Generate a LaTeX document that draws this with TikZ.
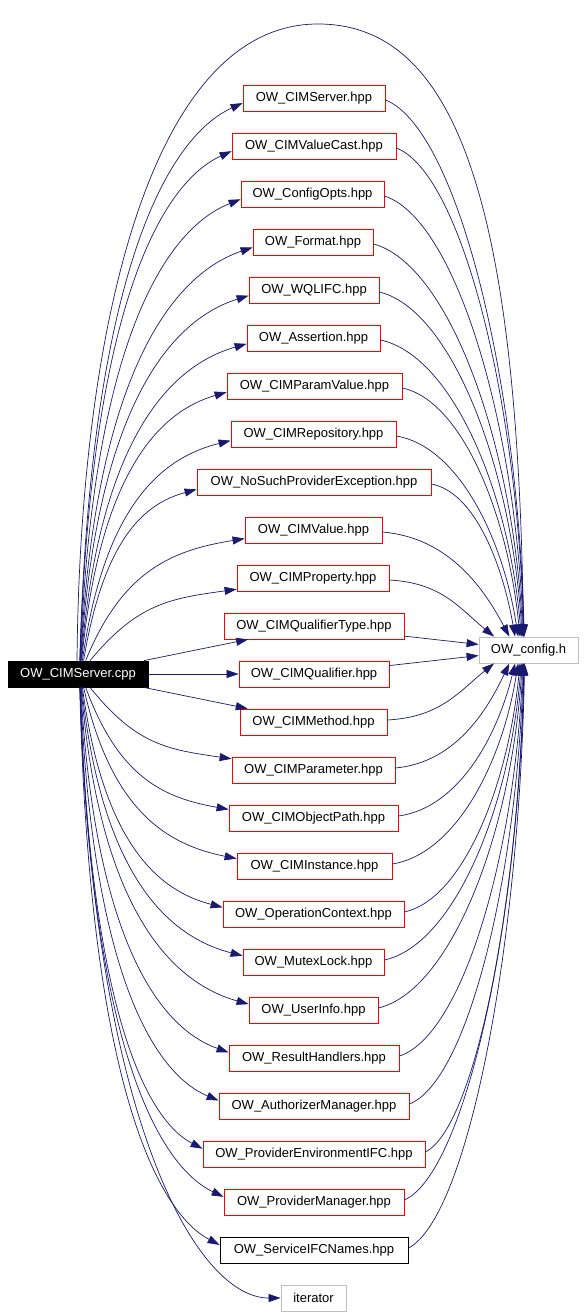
\documentclass[tikz,border=0pt]{standalone}
\usepackage{fontspec}
\setmainfont{Liberation Sans}
\usetikzlibrary{arrows.meta}
\definecolor{edgeblue}{HTML}{191970}
\definecolor{boxred}{HTML}{FF0000}
\definecolor{boxgray}{HTML}{BFBFBF}
\begin{document}
\begin{tikzpicture}[x=1pt,y=-1pt,
  box/.style={draw, rectangle, inner sep=0pt, minimum height=26pt,
    font=\fontsize{13}{15}\selectfont, line width=0.8pt},
  dep/.style={draw=edgeblue, line width=0.7pt, -{Triangle[length=12pt,width=8pt]}}]
\useasboundingbox (0,0) rectangle (584,1316);
\fill[white] (0,0) rectangle (584,1316);

\node[box, fill=black, text=white, draw=black, minimum width=140pt] (main) at (78,674) {OW\_CIMServer.cpp};
\node[box, draw=boxgray, minimum width=99pt] (cfg) at (528.5,650) {OW\_config.h};

% big arc main -> config
\draw[dep] ([xshift=-1pt]main.north) .. controls (80,330) and (150,24) .. (318,24)
  .. controls (455,24) and (518,200) .. ([xshift=-5pt]cfg.north);

% upper rows
\foreach \n/\t/\y/\l/\r in {
  srvh/OW\_CIMServer.hpp/98/243/385,
  vc/OW\_CIMValueCast.hpp/146/232/396,
  co/OW\_ConfigOpts.hpp/194/241/384,
  fmt/OW\_Format.hpp/242/253/373,
  wql/OW\_WQLIFC.hpp/290/249/379,
  as/OW\_Assertion.hpp/338/247/380,
  pv/OW\_CIMParamValue.hpp/386/227/402,
  rep/OW\_CIMRepository.hpp/434/231/396,
  nsp/OW\_NoSuchProviderException.hpp/482/197/431,
  val/OW\_CIMValue.hpp/530/245/382,
  prop/OW\_CIMProperty.hpp/578/237/389}{
  \pgfmathsetmacro\w{\r-\l}
  \pgfmathsetmacro\cx{(\l+\r)/2}
  \node[box, draw=boxred, minimum width=\w pt] (\n) at (\cx,\y) {\t};
  \pgfmathsetmacro\dy{661-\y}
  \pgfmathsetmacro\sxo{1000/\dy}
  \pgfmathsetmacro\sx{78+\sxo}
  \pgfmathsetmacro\k{40/(\dy+40)}
  \pgfmathsetmacro\ax{\sx+(\l-\sx)*\k}
  \pgfmathsetmacro\ay{661-0.7*\dy}
  \pgfmathsetmacro\eyo{4+600/\dy}
  \pgfmathsetmacro\bx{\l-0.45*(\l-\sx)}
  \pgfmathsetmacro\by{\y+\eyo+0.05*\dy+5}
  \draw[dep] ([xshift=\sxo pt]main.north) .. controls (\ax,\ay) and (\bx,\by) .. ([yshift=-\eyo pt]\n.west);
  \pgfmathsetmacro\dz{637-\y}
  \pgfmathsetmacro\ex{528-2000/\dz}
  \pgfmathsetmacro\exo{\ex-528.5}
  \pgfmathsetmacro\px{\r+0.5*(\ex-\r)}
  \pgfmathsetmacro\py{\y+2+0.05*\dz}
  \pgfmathsetmacro\kk{30/(\dz+30)}
  \pgfmathsetmacro\qx{\ex-(\ex-\r)*\kk}
  \pgfmathsetmacro\qy{637-0.5*\dz}
  \draw[dep] ([yshift=-2pt]\n.east) .. controls (\px,\py) and (\qx,\qy) .. ([xshift=\exo pt]cfg.north);
}

% middle rows
\node[box, draw=boxred, minimum width=180pt] (qt) at (314,626) {OW\_CIMQualifierType.hpp};
\node[box, draw=boxred, minimum width=150pt] (q) at (314,674) {OW\_CIMQualifier.hpp};
\node[box, draw=boxred, minimum width=147pt] (meth) at (313.5,722) {OW\_CIMMethod.hpp};
\draw[dep] (main) -- (qt);
\draw[dep] (main) -- (q);
\draw[dep] (main) -- (meth);
\draw[dep] (qt) -- (cfg);
\draw[dep] (q) -- (cfg);
\draw[dep] ([yshift=2pt]meth.east) .. controls (440.5,717) and (458,692.5) .. ([xshift=-34.5pt]cfg.south);

% lower rows
\foreach \n/\t/\y/\l/\r/\c in {
  par/OW\_CIMParameter.hpp/770/232/395/boxred,
  op/OW\_CIMObjectPath.hpp/818/229/398/boxred,
  inst/OW\_CIMInstance.hpp/866/237/392/boxred,
  oc/OW\_OperationContext.hpp/914/223/404/boxred,
  mx/OW\_MutexLock.hpp/962/243/384/boxred,
  ui/OW\_UserInfo.hpp/1010/249/378/boxred,
  rh/OW\_ResultHandlers.hpp/1058/229/399/boxred,
  am/OW\_AuthorizerManager.hpp/1106/219/409/boxred,
  pe/OW\_ProviderEnvironmentIFC.hpp/1154/203/425/boxred,
  pm/OW\_ProviderManager.hpp/1202/224/404/boxred,
  sn/OW\_ServiceIFCNames.hpp/1250/220/408/black}{
  \pgfmathsetmacro\w{\r-\l}
  \pgfmathsetmacro\cx{(\l+\r)/2}
  \node[box, draw=\c, minimum width=\w pt] (\n) at (\cx,\y) {\t};
  \pgfmathsetmacro\dy{\y-687}
  \pgfmathsetmacro\sxo{1000/\dy}
  \pgfmathsetmacro\sx{78+\sxo}
  \pgfmathsetmacro\k{40/(\dy+40)}
  \pgfmathsetmacro\ax{\sx+(\l-\sx)*\k}
  \pgfmathsetmacro\ay{687+0.7*\dy}
  \pgfmathsetmacro\eyo{4+600/\dy}
  \pgfmathsetmacro\bx{\l-0.45*(\l-\sx)}
  \pgfmathsetmacro\by{\y-\eyo-0.05*\dy-5}
  \draw[dep] ([xshift=\sxo pt]main.south) .. controls (\ax,\ay) and (\bx,\by) .. ([yshift=\eyo pt]\n.west);
  \pgfmathsetmacro\dz{\y-663}
  \pgfmathsetmacro\ex{528-2000/\dz}
  \pgfmathsetmacro\exo{\ex-528.5}
  \pgfmathsetmacro\px{\r+0.5*(\ex-\r)}
  \pgfmathsetmacro\py{\y-2-0.05*\dz}
  \pgfmathsetmacro\kk{30/(\dz+30)}
  \pgfmathsetmacro\qx{\ex-(\ex-\r)*\kk}
  \pgfmathsetmacro\qy{663+0.5*\dz}
  \draw[dep] ([yshift=2pt]\n.east) .. controls (\px,\py) and (\qx,\qy) .. ([xshift=\exo pt]cfg.south);
}

% iterator
\node[box, draw=boxgray, minimum width=65pt] (it) at (313.5,1298) {iterator};
\draw[dep] ([xshift=2pt]main.south) .. controls (92,1115) and (195,1298) .. (it.west);
\end{tikzpicture}
\end{document}
